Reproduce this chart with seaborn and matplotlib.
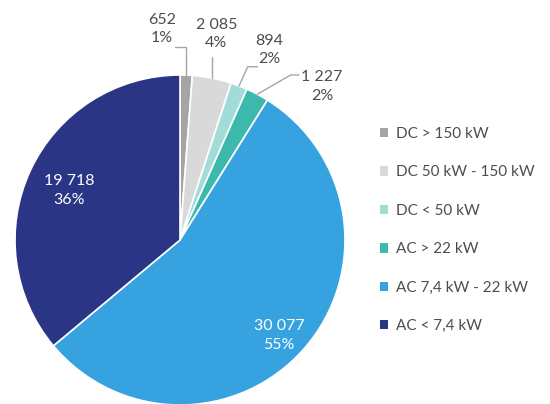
import numpy as np
import matplotlib
matplotlib.use("Agg")
import matplotlib.pyplot as plt
import seaborn as sns
from matplotlib.patches import Patch

# data
categories = ["DC > 150 kW", "DC 50 kW - 150 kW", "DC < 50 kW",
              "AC > 22 kW", "AC 7,4 kW - 22 kW", "AC < 7,4 kW"]
counts = [652, 2085, 894, 1227, 30077, 19718]
colors = ["#A5A5A5", "#D9D9D9", "#A1DCD9", "#3CB8AC", "#36A3E0", "#2B3585"]

sns.set_theme(style="white")
plt.rcParams["font.family"] = ["Lato", "DejaVu Sans"]

palette = sns.color_palette(colors)
total = sum(counts)
txt_col = "#4D4D4D"


def fmt(v):
    return f"{v:,}".replace(",", " ") + "\n" + f"{round(100 * v / total)}%"


fig = plt.figure(figsize=(5.5, 4.04), dpi=100)
ax = fig.add_axes([15 / 550, -1 / 404, 330 / 550, 330 / 404])
wedges, _ = ax.pie(counts, colors=palette, startangle=90, counterclock=False,
                   wedgeprops=dict(edgecolor="white", linewidth=1.2))
ax.set_xlim(-1, 1)
ax.set_ylim(-1, 1)
ax.set_aspect("equal")
ax.axis("off")

# inside labels (two big slices)
inside = {4: (0.60, -0.58), 5: (-0.67, 0.30)}
for i, (x, y) in inside.items():
    ax.text(x, y, fmt(counts[i]), color="white", fontsize=11.5,
            ha="center", va="center", linespacing=1.4)

# outside labels with leader lines: text pos, elbow, end
outside = {
    0: ((-0.11, 1.28), (None, 1.17), -0.03),
    1: ((0.22, 1.25), (None, 1.11), None),
    2: ((0.54, 1.15), (0.41, 1.05), 0.47),
    3: ((0.86, 0.93), (0.67, 1.00), 0.72),
}
for i, (tpos, elbow, end) in outside.items():
    w = wedges[i]
    ang = np.deg2rad((w.theta1 + w.theta2) / 2)
    x0, y0 = np.cos(ang), np.sin(ang)
    ex = x0 if elbow[0] is None else elbow[0]
    xs = [x0, ex]
    ys = [y0, elbow[1]]
    if end is not None:
        xs.append(end)
        ys.append(elbow[1])
    ax.plot(xs, ys, color="#A6A6A6", lw=1, clip_on=False)
    ax.text(tpos[0], tpos[1], fmt(counts[i]), color=txt_col, fontsize=11.5,
            ha="center", va="center", linespacing=1.4, clip_on=False)

handles = [Patch(facecolor=c, edgecolor="none") for c in palette]
fig.legend(handles, categories, loc="upper left",
           bbox_to_anchor=(380 / 550, 1 - 127 / 404), frameon=False,
           fontsize=11, labelcolor=txt_col, handlelength=0.55,
           handleheight=0.55, handletextpad=0.5, labelspacing=1.6,
           borderpad=0, borderaxespad=0)

fig.savefig("out.png", dpi=100)
